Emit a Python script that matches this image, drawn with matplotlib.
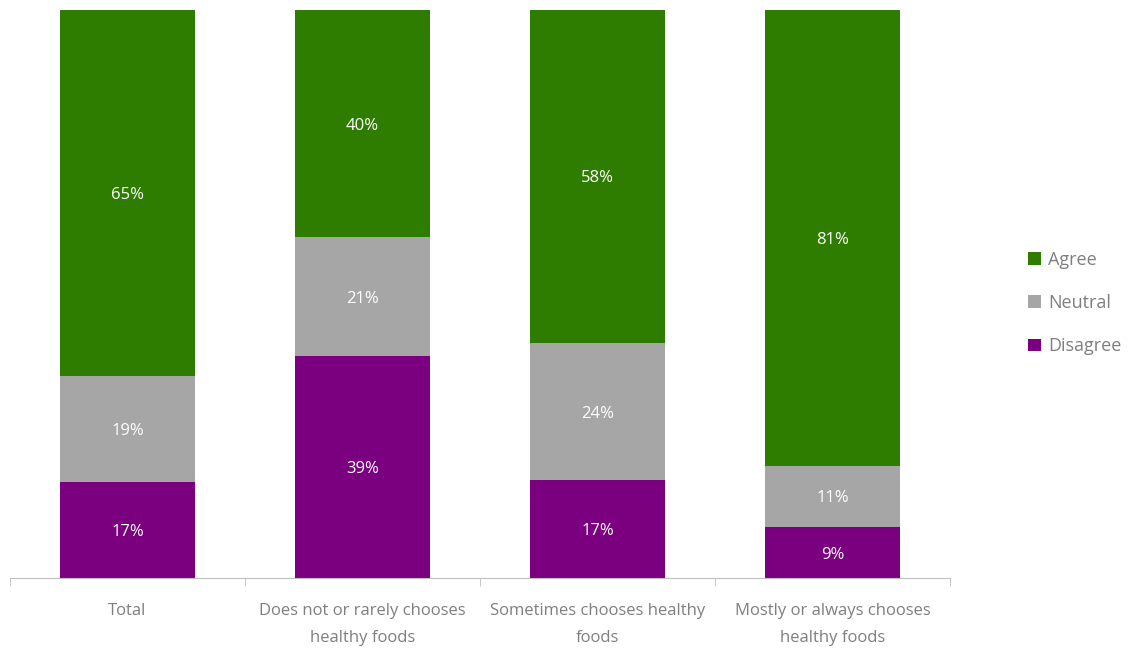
import matplotlib.pyplot as plt
import numpy as np

plt.rcParams['font.family'] = ['Open Sans', 'DejaVu Sans']

categories = ["Total", "Does not or rarely chooses\nhealthy foods",
              "Sometimes chooses healthy\nfoods", "Mostly or always chooses\nhealthy foods"]
disagree = [17, 39, 17, 9]
neutral = [19, 21, 24, 11]
agree = [65, 40, 58, 81]

series = [("Disagree", disagree, "#7a0080"),
          ("Neutral", neutral, "#a6a6a6"),
          ("Agree", agree, "#2e7d00")]

totals = np.array(disagree) + np.array(neutral) + np.array(agree)

fig = plt.figure(figsize=(11.37, 6.48), dpi=100)
ax = fig.add_axes([10 / 1137, 70 / 648, 940 / 1137, 568 / 648])

x = np.arange(len(categories))
bottom = np.zeros(len(categories))
handles = {}
for name, vals, col in series:
    share = np.array(vals) / totals * 100
    bars = ax.bar(x, share, 0.575, bottom=bottom, color=col, label=name)
    handles[name] = bars
    for xi, b, s, v in zip(x, bottom, share, vals):
        ax.text(xi, b + s / 2, f"{v}%", ha="center", va="center_baseline",
                color="white", fontsize=12)
    bottom += share

ax.set_xlim(-0.5, 3.5)
ax.set_ylim(0, 100)
ax.set_yticks([])
for s in ["top", "right", "left"]:
    ax.spines[s].set_visible(False)
ax.spines["bottom"].set_color("#bfbfbf")
ax.set_xticks(x)
ax.set_xticklabels(categories, fontsize=12, color="#7f7f7f", linespacing=1.9)
ax.tick_params(axis="x", which="major", length=0, pad=18)
ax.set_xticks(np.arange(-0.5, 4, 1), minor=True)
ax.tick_params(axis="x", which="minor", length=6, color="#bfbfbf")

leg = fig.legend([handles["Agree"], handles["Neutral"], handles["Disagree"]],
                 ["Agree", "Neutral", "Disagree"],
                 loc="center left", bbox_to_anchor=(1012 / 1137, 1 - 303 / 648),
                 frameon=False, fontsize=13, labelcolor="#7f7f7f",
                 handlelength=0.7, handleheight=0.7, handletextpad=0.4,
                 labelspacing=1.4)

fig.savefig("out.png", dpi=100)
